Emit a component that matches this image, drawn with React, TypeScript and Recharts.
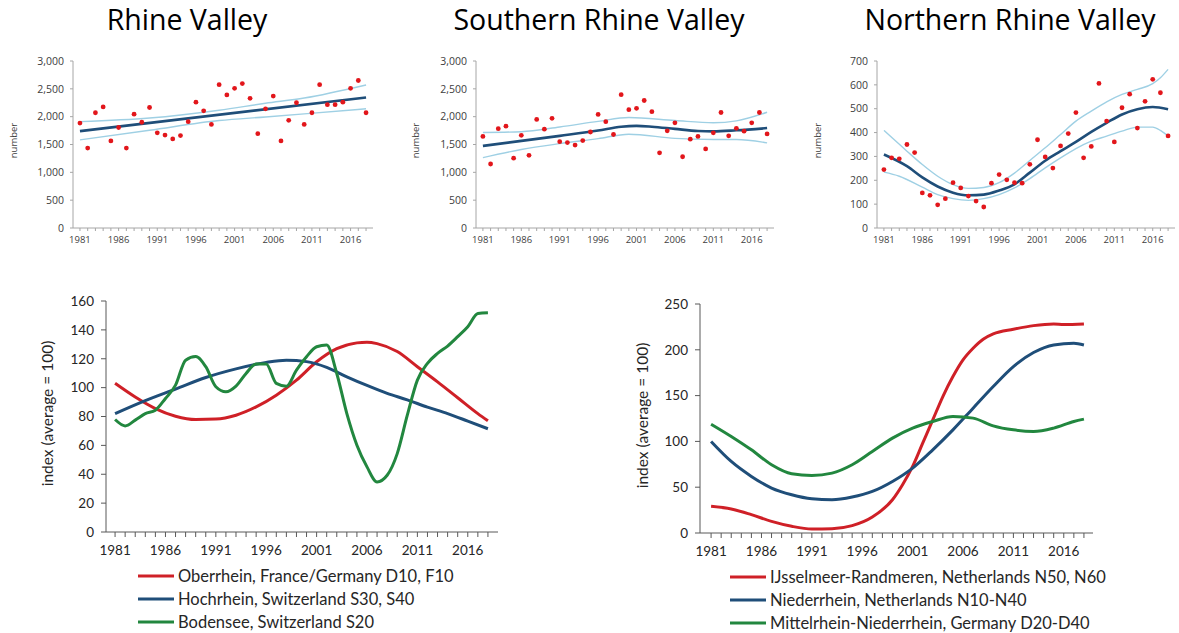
import React from 'react';
import { ComposedChart, LineChart, Line, Scatter, XAxis, YAxis, Label } from 'recharts';

// ---------- categories / ticks ----------
const YEARS = [1981, 1982, 1983, 1984, 1985, 1986, 1987, 1988, 1989, 1990, 1991, 1992, 1993, 1994, 1995, 1996, 1997, 1998, 1999, 2000,
  2001, 2002, 2003, 2004, 2005, 2006, 2007, 2008, 2009, 2010, 2011, 2012, 2013, 2014, 2015, 2016, 2017, 2018];
const LABEL_YEARS = [1981, 1986, 1991, 1996, 2001, 2006, 2011, 2016];
const COUNT_TICKS = [0, 500, 1000, 1500, 2000, 2500, 3000];
const NORTH_TICKS = [0, 100, 200, 300, 400, 500, 600, 700];
const INDEX_TICKS_A = [0, 20, 40, 60, 80, 100, 120, 140, 160];
const INDEX_TICKS_B = [0, 50, 100, 150, 200, 250];

// ---------- Rhine Valley ----------
const rhineCounts = [1885, 1435, 2070, 2175, 1565, 1805, 1435, 2045, 1900, 2165, 1710, 1670, 1600, 1660, 1910, 2260, 2105, 1860, 2575, 2390,
  2510, 2595, 2330, 1695, 2140, 2370, 1565, 1935, 2250, 1860, 2070, 2575, 2215, 2215, 2260, 2510, 2650, 2070];
const rhineTrend = [{ year: 1981, v: 1740 }, { year: 2018, v: 2345 }];
const rhineUpper = [{ year: 1981, v: 1910 }, { year: 1990, v: 1975 }, { year: 1999, v: 2115 }, { year: 2005, v: 2240 }, { year: 2010, v: 2335 }, { year: 2018, v: 2570 }];
const rhineLower = [{ year: 1981, v: 1583 }, { year: 1990, v: 1755 }, { year: 1999, v: 1930 }, { year: 2005, v: 1995 }, { year: 2010, v: 2050 }, { year: 2018, v: 2142 }];

// ---------- Southern Rhine Valley ----------
const southCounts = [1645, 1150, 1785, 1830, 1255, 1665, 1305, 1950, 1775, 1970, 1550, 1535, 1490, 1570, 1725, 2040, 1910, 1680, 2395, 2125,
  2150, 2290, 2090, 1350, 1745, 1890, 1280, 1595, 1645, 1420, 1710, 2075, 1655, 1790, 1740, 1890, 2075, 1690];
const southTrend = [{ year: 1981, v: 1475 }, { year: 1986, v: 1565 }, { year: 1991, v: 1655 }, { year: 1996, v: 1750 }, { year: 1999, v: 1820 }, { year: 2001, v: 1835 }, { year: 2003, v: 1820 }, { year: 2006, v: 1780 }, { year: 2009, v: 1742 }, { year: 2011, v: 1735 }, { year: 2014, v: 1755 }, { year: 2018, v: 1795 }];
const southUpper = [{ year: 1981, v: 1715 }, { year: 1986, v: 1730 }, { year: 1991, v: 1815 }, { year: 1996, v: 1915 }, { year: 2000, v: 1985 }, { year: 2006, v: 1930 }, { year: 2011, v: 1890 }, { year: 2014, v: 1925 }, { year: 2018, v: 2080 }];
const southLower = [{ year: 1981, v: 1265 }, { year: 1986, v: 1410 }, { year: 1991, v: 1515 }, { year: 1996, v: 1605 }, { year: 2000, v: 1685 }, { year: 2006, v: 1610 }, { year: 2011, v: 1590 }, { year: 2014, v: 1590 }, { year: 2018, v: 1530 }];

// ---------- Northern Rhine Valley ----------
const northCounts = [245, 294, 290, 350, 316, 147, 137, 97, 123, 190, 168, 134, 113, 88, 188, 224, 202, 190, 188, 267,
  370, 298, 251, 344, 396, 484, 294, 342, 606, 448, 361, 504, 561, 419, 531, 623, 567, 386];
const northTrend = [{ year: 1981, v: 308 }, { year: 1984, v: 259 }, { year: 1986, v: 212 }, { year: 1988, v: 174 }, { year: 1990, v: 148 }, { year: 1992, v: 137 }, { year: 1994, v: 140 }, { year: 1996, v: 157 }, { year: 1998, v: 183 }, { year: 2000, v: 232 }, { year: 2002, v: 282 }, { year: 2004, v: 322 }, { year: 2006, v: 361 }, { year: 2008, v: 403 }, { year: 2010, v: 441 }, { year: 2012, v: 476 }, { year: 2014, v: 498 }, { year: 2016, v: 507 }, { year: 2018, v: 498 }];
const northUpper = [{ year: 1981, v: 409 }, { year: 1984, v: 322 }, { year: 1986, v: 266 }, { year: 1988, v: 217 }, { year: 1990, v: 182 }, { year: 1992, v: 166 }, { year: 1994, v: 170 }, { year: 1996, v: 190 }, { year: 1998, v: 230 }, { year: 2000, v: 283 }, { year: 2002, v: 336 }, { year: 2004, v: 392 }, { year: 2006, v: 448 }, { year: 2008, v: 490 }, { year: 2010, v: 529 }, { year: 2012, v: 560 }, { year: 2014, v: 581 }, { year: 2016, v: 605 }, { year: 2017, v: 630 }, { year: 2018, v: 665 }];
const northLower = [{ year: 1981, v: 234 }, { year: 1983, v: 217 }, { year: 1986, v: 171 }, { year: 1988, v: 140 }, { year: 1990, v: 123 }, { year: 1992, v: 116 }, { year: 1994, v: 123 }, { year: 1996, v: 140 }, { year: 1998, v: 168 }, { year: 2000, v: 207 }, { year: 2002, v: 252 }, { year: 2004, v: 294 }, { year: 2006, v: 333 }, { year: 2008, v: 364 }, { year: 2010, v: 385 }, { year: 2012, v: 406 }, { year: 2014, v: 423 }, { year: 2016, v: 423 }, { year: 2017, v: 409 }, { year: 2018, v: 385 }];

// ---------- index panel A ----------
const oberrhein = [{ year: 1981, v: 103 }, { year: 1983, v: 93.5 }, { year: 1985, v: 85.5 }, { year: 1987, v: 80.2 }, { year: 1989, v: 77.9 }, { year: 1991, v: 78.2 }, { year: 1993, v: 80.9 }, { year: 1995, v: 86.7 }, { year: 1997, v: 94.8 }, { year: 1999, v: 105.2 }, { year: 2001, v: 117.9 }, { year: 2003, v: 127 }, { year: 2005, v: 131 }, { year: 2006, v: 131.5 }, { year: 2007, v: 130.5 }, { year: 2009, v: 125 }, { year: 2011, v: 114.5 }, { year: 2013, v: 104 }, { year: 2015, v: 93 }, { year: 2017, v: 82 }, { year: 2018, v: 77 }];
const hochrhein = [{ year: 1981, v: 82 }, { year: 1984, v: 91 }, { year: 1987, v: 99 }, { year: 1990, v: 107 }, { year: 1993, v: 113 }, { year: 1996, v: 117.5 }, { year: 1998, v: 119 }, { year: 2000, v: 118 }, { year: 2002, v: 114 }, { year: 2004, v: 107.5 }, { year: 2006, v: 101.5 }, { year: 2008, v: 96 }, { year: 2010, v: 91.5 }, { year: 2012, v: 86.5 }, { year: 2014, v: 82 }, { year: 2016, v: 76.8 }, { year: 2018, v: 71.5 }];
const bodensee = [{ year: 1981, v: 77.9 }, { year: 1982, v: 73.5 }, { year: 1983, v: 77.5 }, { year: 1984, v: 82 }, { year: 1985, v: 84.4 }, { year: 1986, v: 92.5 }, { year: 1987, v: 101.7 }, { year: 1988, v: 119 }, { year: 1989, v: 121.5 }, { year: 1990, v: 114.5 }, { year: 1991, v: 100.6 }, { year: 1992, v: 97.1 }, { year: 1993, v: 101 }, { year: 1994, v: 109.8 }, { year: 1995, v: 116.3 }, { year: 1996, v: 116.3 }, { year: 1997, v: 102.9 }, { year: 1998, v: 101 }, { year: 1999, v: 112.1 }, { year: 2000, v: 121.4 }, { year: 2001, v: 128.3 }, { year: 2002, v: 129.5 }, { year: 2003, v: 109.8 }, { year: 2004, v: 82 }, { year: 2005, v: 60.1 }, { year: 2006, v: 45.1 }, { year: 2007, v: 34.7 }, { year: 2008, v: 39.3 }, { year: 2009, v: 54.3 }, { year: 2010, v: 80.9 }, { year: 2011, v: 105.2 }, { year: 2012, v: 116.8 }, { year: 2013, v: 123.7 }, { year: 2014, v: 128.8 }, { year: 2015, v: 135.3 }, { year: 2016, v: 142.2 }, { year: 2017, v: 151.4 }, { year: 2018, v: 151.9 }];

// ---------- index panel B ----------
const ijsselmeer = [{ year: 1981, v: 29.1 }, { year: 1983, v: 26.2 }, { year: 1985, v: 20 }, { year: 1987, v: 12.7 }, { year: 1989, v: 7.3 }, { year: 1991, v: 4.4 }, { year: 1993, v: 4.7 }, { year: 1995, v: 8 }, { year: 1997, v: 17.4 }, { year: 1999, v: 36.3 }, { year: 2000, v: 52.7 }, { year: 2001, v: 72.7 }, { year: 2002, v: 98.1 }, { year: 2003, v: 123.5 }, { year: 2004, v: 149 }, { year: 2005, v: 170.8 }, { year: 2006, v: 189 }, { year: 2007, v: 201.7 }, { year: 2008, v: 211.5 }, { year: 2009, v: 217.3 }, { year: 2011, v: 222.4 }, { year: 2013, v: 226.4 }, { year: 2015, v: 228.2 }, { year: 2016, v: 227.5 }, { year: 2018, v: 228.2 }];
const niederrhein = [{ year: 1981, v: 99.9 }, { year: 1983, v: 78.1 }, { year: 1985, v: 61.8 }, { year: 1987, v: 49.1 }, { year: 1989, v: 41.8 }, { year: 1991, v: 37.4 }, { year: 1993, v: 36.3 }, { year: 1995, v: 39.2 }, { year: 1997, v: 45.4 }, { year: 1999, v: 56.3 }, { year: 2001, v: 70.9 }, { year: 2003, v: 90.8 }, { year: 2005, v: 112.6 }, { year: 2007, v: 136.3 }, { year: 2009, v: 159.9 }, { year: 2011, v: 181.7 }, { year: 2013, v: 197 }, { year: 2015, v: 205.3 }, { year: 2017, v: 207.1 }, { year: 2018, v: 205.3 }];
const mittelrhein = [{ year: 1981, v: 118.8 }, { year: 1983, v: 105.4 }, { year: 1985, v: 90.8 }, { year: 1987, v: 74.5 }, { year: 1989, v: 64.7 }, { year: 1991, v: 62.9 }, { year: 1993, v: 65.4 }, { year: 1995, v: 74.5 }, { year: 1997, v: 89 }, { year: 1999, v: 103.6 }, { year: 2001, v: 114.5 }, { year: 2003, v: 121.7 }, { year: 2005, v: 127.2 }, { year: 2007, v: 125.4 }, { year: 2009, v: 117 }, { year: 2011, v: 112.6 }, { year: 2013, v: 110.8 }, { year: 2015, v: 114.5 }, { year: 2017, v: 121.7 }, { year: 2018, v: 124.3 }];

const RED = '#cf2027';
const BLUE = '#1f4e79';
const GREEN = '#22873f';

const yearLabel = (v: number) => (LABEL_YEARS.includes(v) ? String(v) : '');
const thousands = (v: number) => v.toLocaleString('en-US');

const makeYLabel = (text: string, dx: number, dy: number, fontSize: number, fontFamily: string, fill: string) => (props: any) => {
  const vb = props.viewBox || { x: 0, y: 0, width: 0, height: 0 };
  const x = vb.x + dx;
  const y = vb.y + vb.height / 2 + dy;
  return (
    <text x={x} y={y} transform={`rotate(-90 ${x} ${y})`} textAnchor="middle" dominantBaseline="central"
      fontSize={fontSize} fontFamily={fontFamily} fill={fill}>{text}</text>
  );
};

const redDot = (p: any) => <circle cx={p.cx} cy={p.cy} r={2.4} fill="#e2161b" />;

type TopProps = {
  left: number; width: number; counts: number[]; trend: any[]; upper: any[]; lower: any[];
  yMax: number; yTicks: number[]; mLeft: number; yW: number; mRight: number; labelDx: number; fmt?: (v: number) => string;
};

function TopPanel(p: TopProps) {
  const points = YEARS.map((year, i) => ({ year, v: p.counts[i] }));
  const dom: [number, number] = [1980.1, 2018.9];
  return (
    <div style={{ position: 'absolute', left: p.left, top: 40 }}>
      <ComposedChart width={p.width} height={215} margin={{ top: 21, right: p.mRight, left: p.mLeft, bottom: 7 }}>
        <XAxis type="number" dataKey="year" domain={dom} ticks={YEARS} interval={0} tickFormatter={yearLabel}
          height={20} tickSize={3} tickMargin={5} axisLine={{ stroke: '#a6a6a6' }} tickLine={{ stroke: '#a6a6a6' }}
          tick={{ fontSize: 9.5, fill: '#404040', fontFamily: 'Open Sans' }} />
        <XAxis xAxisId="top" orientation="top" type="number" domain={dom} tick={false} tickLine={false}
          axisLine={{ stroke: '#c8c8c8' }} height={0} />
        <YAxis type="number" domain={[0, p.yMax]} ticks={p.yTicks} interval={0} width={p.yW} tickFormatter={p.fmt}
          tickSize={3} tickMargin={6} axisLine={{ stroke: '#a6a6a6' }} tickLine={{ stroke: '#a6a6a6' }}
          tick={{ fontSize: 10.5, fill: '#404040', fontFamily: 'Open Sans' }}>
          <Label content={makeYLabel('number', p.labelDx, -4, 9.5, 'Open Sans', '#404040')} />
        </YAxis>
        <YAxis yAxisId="right" orientation="right" type="number" domain={[0, p.yMax]} tick={false} tickLine={false}
          axisLine={{ stroke: '#c8c8c8' }} width={0} />
        <Line data={p.upper} dataKey="v" type="monotone" stroke="#9fd0e4" strokeWidth={1.4} dot={false} isAnimationActive={false} />
        <Line data={p.lower} dataKey="v" type="monotone" stroke="#9fd0e4" strokeWidth={1.4} dot={false} isAnimationActive={false} />
        <Line data={p.trend} dataKey="v" type="monotone" stroke={BLUE} strokeWidth={2.6} dot={false} isAnimationActive={false} />
        <Scatter data={points} dataKey="v" shape={redDot} isAnimationActive={false} />
      </ComposedChart>
    </div>
  );
}

type SeriesDef = { name: string; color: string; data: any[] };
type BottomProps = {
  left: number; width: number; series: SeriesDef[]; yMax: number; yTicks: number[]; dom: [number, number];
  mTop: number; mLeft: number; yW: number; mRight: number; mBottom: number; labelDx: number;
  legendX: number; legendY: number[];
};

function BottomPanel(p: BottomProps) {
  return (
    <div style={{ position: 'absolute', left: p.left, top: 280, width: p.width, height: 353 }}>
      <LineChart width={p.width} height={290} margin={{ top: p.mTop, right: p.mRight, left: p.mLeft, bottom: p.mBottom }}>
        <XAxis type="number" dataKey="year" domain={p.dom} ticks={YEARS} interval={0} tickFormatter={yearLabel}
          height={30} tickSize={5} tickMargin={8} axisLine={{ stroke: '#595959' }} tickLine={{ stroke: '#595959' }}
          tick={{ fontSize: 13.5, fill: '#262626', fontFamily: 'Lato' }} />
        <XAxis xAxisId="top" orientation="top" type="number" domain={p.dom} tick={false} tickLine={false}
          axisLine={{ stroke: '#a6a6a6' }} height={0} />
        <YAxis type="number" domain={[0, p.yMax]} ticks={p.yTicks} interval={0} width={p.yW}
          tickSize={5} tickMargin={7} axisLine={{ stroke: '#595959' }} tickLine={{ stroke: '#595959' }}
          tick={{ fontSize: 13.5, fill: '#262626', fontFamily: 'Lato' }}>
          <Label content={makeYLabel('index (average = 100)', p.labelDx, -3, 15.5, 'Lato', '#262626')} />
        </YAxis>
        <YAxis yAxisId="right" orientation="right" type="number" domain={[0, p.yMax]} tick={false} tickLine={false}
          axisLine={{ stroke: '#a6a6a6' }} width={0} />
        {p.series.map((s) => (
          <Line key={s.name} data={s.data} dataKey="v" name={s.name} type="monotone" stroke={s.color} strokeWidth={3}
            dot={false} isAnimationActive={false} />
        ))}
      </LineChart>
      {p.series.map((s, i) => (
        <div key={s.name} style={{ position: 'absolute', left: p.legendX, top: p.legendY[i] - 280 - 12, height: 24,
          display: 'flex', alignItems: 'center', whiteSpace: 'nowrap' }}>
          <svg width={36} height={6} style={{ marginRight: 4 }}>
            <line x1={0} y1={3} x2={36} y2={3} stroke={s.color} strokeWidth={3} />
          </svg>
          <span style={{ fontFamily: 'Lato', fontSize: 16.5, color: '#262626' }}>{s.name}</span>
        </div>
      ))}
    </div>
  );
}

const titleStyle = (cx: number): React.CSSProperties => ({
  position: 'absolute', left: cx - 165, width: 330, top: 1, lineHeight: '36px', textAlign: 'center',
  fontFamily: 'Open Sans', fontSize: 28.5, color: '#000', whiteSpace: 'nowrap',
});

export default function App() {
  return (
    <div style={{ position: 'absolute', left: 0, top: 0, width: 1179, height: 633, background: '#fff', overflow: 'hidden' }}>
      <div style={titleStyle(187)}>Rhine Valley</div>
      <div style={titleStyle(599)}>Southern Rhine Valley</div>
      <div style={titleStyle(1010)}>Northern Rhine Valley</div>

      <TopPanel left={0} width={390} counts={rhineCounts} trend={rhineTrend} upper={rhineUpper} lower={rhineLower}
        yMax={3000} yTicks={COUNT_TICKS} mLeft={10} yW={63} mRight={17} labelDx={3} fmt={thousands} />
      <TopPanel left={390} width={390} counts={southCounts} trend={southTrend} upper={southUpper} lower={southLower}
        yMax={3000} yTicks={COUNT_TICKS} mLeft={20} yW={66} mRight={6} labelDx={5} fmt={thousands} />
      <TopPanel left={780} width={399} counts={northCounts} trend={northTrend} upper={northUpper} lower={northLower}
        yMax={700} yTicks={NORTH_TICKS} mLeft={30} yW={67} mRight={4} labelDx={7} />

      <BottomPanel left={0} width={590}
        series={[
          { name: 'Oberrhein, France/Germany D10, F10', color: RED, data: oberrhein },
          { name: 'Hochrhein, Switzerland S30, S40', color: BLUE, data: hochrhein },
          { name: 'Bodensee, Switzerland S20', color: GREEN, data: bodensee },
        ]}
        yMax={160} yTicks={INDEX_TICKS_A} dom={[1980.1, 2019]} mTop={21} mLeft={30} yW={76} mRight={92} mBottom={8}
        labelDx={17} legendX={138} legendY={[576, 599, 622]} />
      <BottomPanel left={590} width={589}
        series={[
          { name: 'IJsselmeer-Randmeren, Netherlands N50, N60', color: RED, data: ijsselmeer },
          { name: 'Niederrhein, Netherlands N10-N40', color: BLUE, data: niederrhein },
          { name: 'Mittelrhein-Niederrhein, Germany D20-D40', color: GREEN, data: mittelrhein },
        ]}
        yMax={250} yTicks={INDEX_TICKS_B} dom={[1979.9, 2018.9]} mTop={24} mLeft={30} yW={80} mRight={86} mBottom={7}
        labelDx={22} legendX={140} legendY={[577, 600, 623]} />
    </div>
  );
}
